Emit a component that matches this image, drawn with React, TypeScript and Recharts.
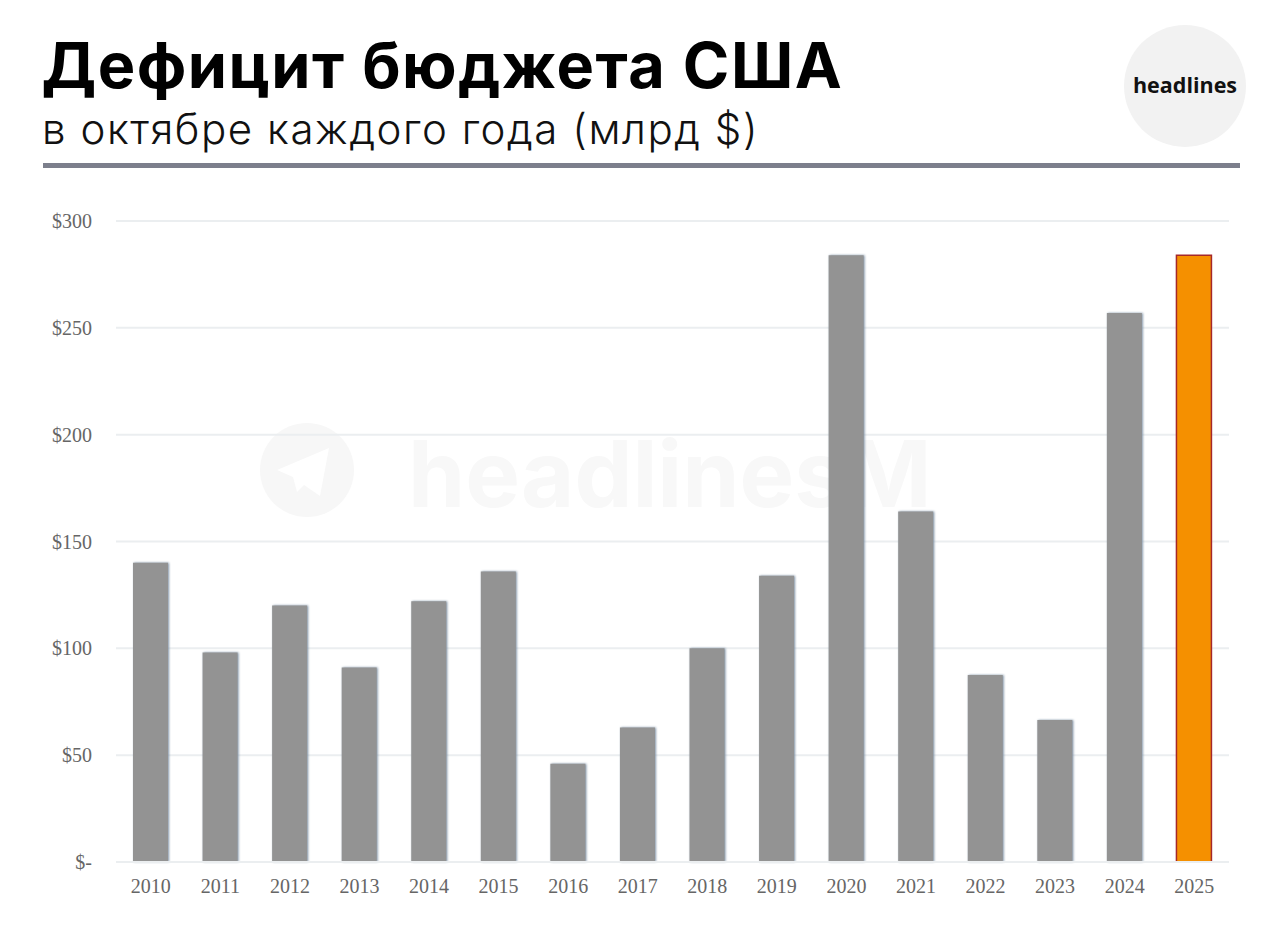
import { BarChart, Bar, Cell, XAxis, YAxis, CartesianGrid } from "recharts";

const YEARS = ["2010", "2011", "2012", "2013", "2014", "2015", "2016", "2017", "2018", "2019", "2020", "2021", "2022", "2023", "2024", "2025"];
const DEFICIT = [140, 98, 120, 91, 122, 136, 46, 63, 100, 134, 284, 164, 87.5, 66.5, 257, 284];
const Y_TICKS = [0, 50, 100, 150, 200, 250, 300];

const data = YEARS.map((year, i) => ({ year, deficit: DEFICIT[i] }));

const tickStyle = { fontFamily: "'Liberation Serif'", fontSize: 20, fill: "#666" };

const formatDollar = (v: number) => (v === 0 ? "$-" : `$${v}`);

export default function App() {
  return (
    <div style={{ position: "absolute", left: 0, top: 0, width: 1280, height: 951, background: "#fff", overflow: "hidden" }}>
      {/* watermark sits under the chart */}
      <svg width={1280} height={951} style={{ position: "absolute", left: 0, top: 0 }}>
        <circle cx={307} cy={470} r={47} fill="#f7f7f7" />
        <path d="M329 448 L277 470 L293 477 L297 492 L304 485 L320 496 Z" fill="#fff" />
        <text x={408} y={507} fontFamily="Inter" fontWeight={700} fontSize={92} fill="#f8f8f8">headlinesM</text>
      </svg>

      <div style={{ position: "absolute", left: 0, top: 0 }}>
        <BarChart width={1280} height={951} data={data} margin={{ top: 221, right: 51, bottom: 59, left: 1 }} barSize={35}>
          <CartesianGrid vertical={false} stroke="#ebeef0" strokeWidth={2} />
          <XAxis
            dataKey="year"
            tickLine={false}
            axisLine={{ stroke: "#ebeef0", strokeWidth: 2 }}
            tick={tickStyle}
            tickMargin={11}
            interval={0}
          />
          <YAxis
            width={115}
            domain={[0, 300]}
            ticks={Y_TICKS}
            tickFormatter={formatDollar}
            tickLine={false}
            axisLine={false}
            tick={tickStyle}
            tickMargin={18}
          />
          <Bar dataKey="deficit" isAnimationActive={false}>
            {YEARS.map((year) =>
              year === "2025" ? (
                <Cell key={year} fill="#f59000" stroke="#a5282a" strokeWidth={1.5} />
              ) : (
                <Cell key={year} fill="#939393" style={{ filter: "drop-shadow(1px 0 1px #7f92a6)" }} />
              )
            )}
          </Bar>
        </BarChart>
      </div>

      <div style={{ position: "absolute", left: 41.5, top: 27, fontFamily: "Inter", fontWeight: 700, fontSize: 63, letterSpacing: 1.5, lineHeight: "76px", color: "#000", whiteSpace: "nowrap" }}>
        Дефицит бюджета США
      </div>
      <div style={{ position: "absolute", left: 42, top: 104, fontFamily: "Inter", fontWeight: 300, fontSize: 42, letterSpacing: 1.55, lineHeight: "50px", color: "#111", whiteSpace: "nowrap" }}>
        в октябре каждого года (млрд $)
      </div>
      <div style={{ position: "absolute", left: 43, top: 163, width: 1197, height: 5, background: "#7c7f8c" }} />

      <div style={{ position: "absolute", left: 1124, top: 25, width: 122, height: 122, borderRadius: "50%", background: "#f2f2f2" }} />
      <div style={{ position: "absolute", left: 1124, top: 23, width: 122, height: 122, display: "flex", alignItems: "center", justifyContent: "center", fontFamily: "'Open Sans'", fontWeight: 700, fontSize: 21.5, color: "#111" }}>
        headlines
      </div>
    </div>
  );
}
